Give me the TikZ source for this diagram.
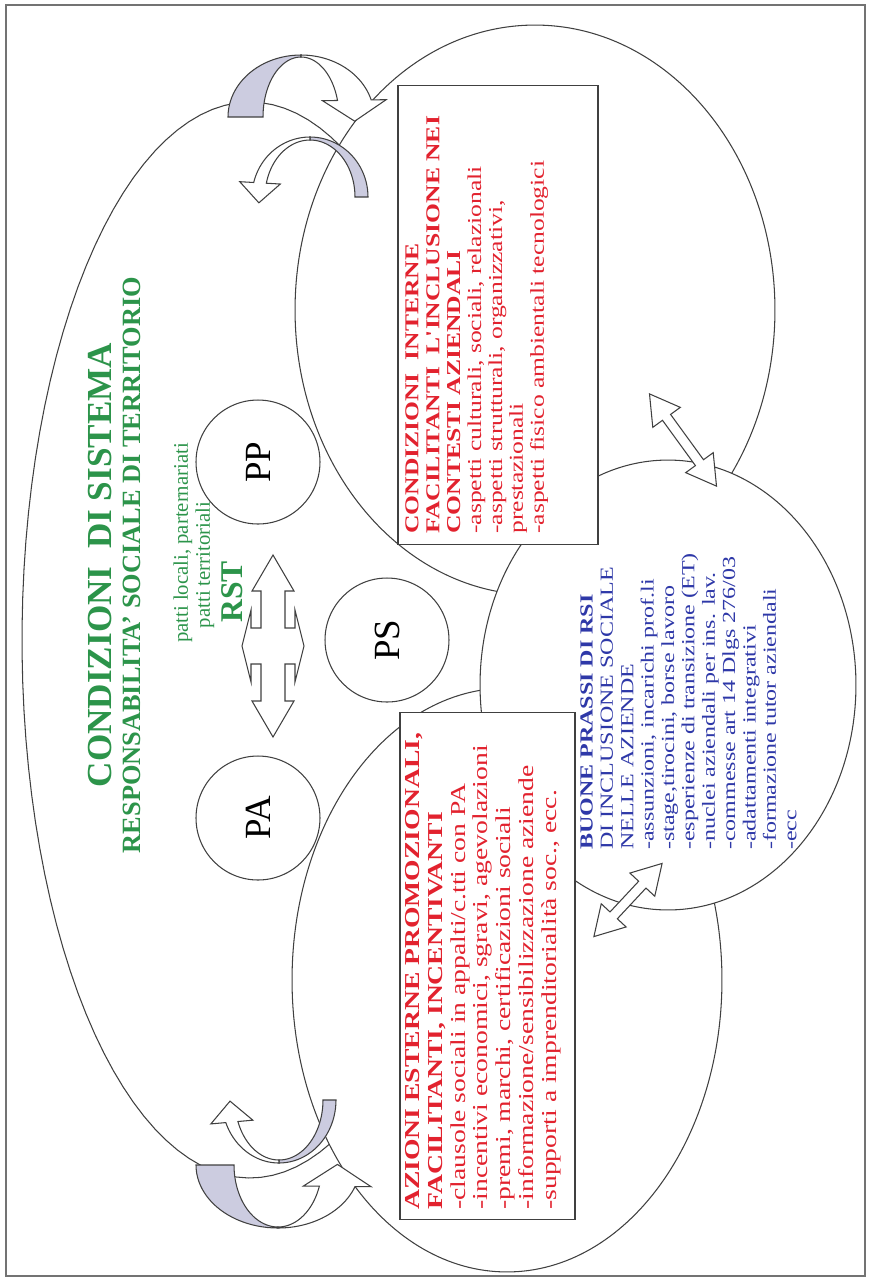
\documentclass[tikz,border=0pt]{standalone}
\usepackage{fontspec}
\setmainfont{Liberation Serif}
\newfontfamily\wideserif{Liberation Serif}[FakeStretch=1.3]
\usetikzlibrary{calc}

\definecolor{rsired}{RGB}{226,34,46}
\definecolor{rsigreen}{RGB}{44,148,74}
\definecolor{rsiblue}{RGB}{46,56,168}
\definecolor{bandgray}{RGB}{204,204,224}

\begin{document}
\begin{tikzpicture}[
  x=0.02cm, y=-0.02cm,
  outline/.style={draw=black!75, line width=.6pt},
  area/.style={outline, fill=white},
  textbox/.style={outline, fill=white, inner sep=0pt},
  listtext/.style={rotate=90, anchor=north west, align=left, inner sep=0pt},
  greentext/.style={rotate=90, inner sep=0pt, text=rsigreen},
  actor/.style={circle, area, minimum size=2.48cm, inner sep=0pt,
                rotate=90, font=\fontsize{21}{21}\selectfont},
  blockarrow/.style={outline, fill=white},
  backside/.style={outline, fill=bandgray}
]
\useasboundingbox (0,0) rectangle (870,1279);
\draw[black!55, line width=.8pt] (6,5) rectangle (865,1276);

% system conditions: only the left arc of the big oval shows
\draw[outline] plot[domain=60:300, samples=80]
  ({250+228*cos(\x)},{640-538*sin(\x)});

% internal conditions (top) and external actions (bottom)
\draw[area] (535,310) ellipse [x radius=4.8cm, y radius=5.7cm];
\draw[area] (507,980) ellipse [x radius=4.3cm, y radius=5.84cm];

% good practices
\draw[area] (668,685) ellipse [x radius=3.76cm, y radius=4.5cm];

% double block arrows between the areas
\foreach \px/\py/\ang/\h in {683/440/-54/57, 628/900/47/50}
  \draw[blockarrow, shift={(\px,\py)}, rotate=\ang]
    (-\h,0) -- ({-\h+29},-17) -- ({-\h+29},-5) -- ({\h-29},-5)
    -- ({\h-29},-17) -- (\h,0) -- ({\h-29},17) -- ({\h-29},5)
    -- ({-\h+29},5) -- ({-\h+29},17) -- cycle;

% text boxes
\node[textbox, minimum width=4cm, minimum height=9.2cm] (internalbox) at (498,315) {};
\node[listtext, text=rsired, font=\wideserif\fontsize{11.2}{11.9}\selectfont]
  (internal) at (405,534) {%
  \textbf{CONDIZIONI\ \ INTERNE}\\
  \textbf{FACILITANTI\ \ L'INCLUSIONE NEI}\\
  \textbf{CONTESTI AZIENDALI}\\
  -aspetti culturali, sociali, relazionali\\
  -aspetti strutturali, organizzativi,\\
  prestazionali\\
  -aspetti fisico ambientali tecnologici};

\node[textbox, minimum width=3.5cm, minimum height=10.16cm] (externalbox) at (487.5,966) {};
\node[listtext, text=rsired, font=\wideserif\fontsize{12.1}{13}\selectfont]
  (external) at (405,1210) {%
  \textbf{AZIONI ESTERNE PROMOZIONALI,}\\
  \textbf{FACILITANTI, INCENTIVANTI}\\
  -clausole sociali in appalti/c.tti con PA\\
  -incentivi economici, sgravi, agevolazioni\\
  -premi, marchi, certificazioni sociali\\
  -informazione/sensibilizzazione aziende\\
  -supporti a imprenditorialità soc.,\ ecc.};

\node[listtext, text=rsiblue, font=\wideserif\fontsize{10.5}{11.6}\selectfont]
  (practices) at (580,850) {%
  \textbf{BUONE PRASSI DI RSI}\\
  DI INCLUSIONE SOCIALE\\
  NELLE AZIENDE\\
  -assunzioni, incarichi prof.li\\
  -stage,tirocini, borse lavoro\\
  -esperienze di transizione (ET)\\
  -nuclei aziendali per ins. lav.\\
  -commesse art 14 Dlgs 276/03\\
  -adattamenti integrativi\\
  -formazione tutor aziendali\\
  -ecc};

% green titles
\node[greentext, font=\fontsize{20}{24}\selectfont\bfseries] (system) at (100,565) {CONDIZIONI\ \ DI SISTEMA};
\node[greentext, font=\fontsize{15}{18}\selectfont\bfseries] (territory) at (132,565) {RESPONSABILITA' SOCIALE DI TERRITORIO};
\node[greentext, font=\fontsize{11.8}{13}\selectfont] (pacts) at (183,543) {patti locali, parternariati};
\node[greentext, font=\fontsize{11.8}{13}\selectfont] (tpacts) at (205,565) {patti territoriali};
\node[greentext, font=\fontsize{18}{20}\selectfont\bfseries] (rst) at (232,592) {RST};

% actors
\node[actor] (pp) at (258,462) {PP};
\node[actor] (ps) at (387,640) {PS};
\node[actor] (pa) at (258,818) {PA};

% four way arrow
\draw[blockarrow, shift={(273,646)}]
  (0,-91) -- (21,-55) -- (12,-55) -- (12,-18) -- (22,-18) -- (22,-36)
  -- (31,0) -- (22,36) -- (22,18) -- (12,18) -- (12,55) -- (21,55)
  -- (0,91) -- (-21,55) -- (-12,55) -- (-12,18) -- (-22,18) -- (-22,36)
  -- (-31,0) -- (-22,-36) -- (-22,-18) -- (-12,-18) -- (-12,-55)
  -- (-21,-55) -- cycle;

% curved ribbon arrows: shaded back, then front with head
\foreach \cx/\cy/\ao/\bo/\ai/\bi/\ta/\tm/\tb/\s/\ov/\hl in {
    301/117/73/62/38/60/180/90/16/90/.3cm/.42cm,
    310/197/58/60/45/57/0/90/166/-90/.28cm/.4cm,
    278/1165/82/63/44/62/180/270/340/-90/.32cm/.44cm,
    279/1100/57/63/44/60/360/270/201/90/.3cm/.42cm}
{
  \coordinate (ho) at ({\cx+\ao*cos(\tb)},{\cy-\bo*sin(\tb)});
  \coordinate (hi) at ({\cx+\ai*cos(\tb)},{\cy-\bi*sin(\tb)});
  \coordinate (hm) at ($(ho)!.5!(hi)$);
  \draw[backside] plot[domain=\ta:\tm, samples=25] ({\cx+\ao*cos(\x)},{\cy-\bo*sin(\x)})
    -- plot[domain=\tm:\ta, samples=25] ({\cx+\ai*cos(\x)},{\cy-\bi*sin(\x)}) -- cycle;
  \draw[blockarrow] plot[domain=\tm:\tb, samples=25] ({\cx+\ao*cos(\x)},{\cy-\bo*sin(\x)})
    -- ($(ho)!-\ov!(hi)$) -- ($(hm)!\hl!\s:(hi)$) -- ($(hi)!-\ov!(ho)$)
    -- plot[domain=\tb:\tm, samples=25] ({\cx+\ai*cos(\x)},{\cy-\bi*sin(\x)}) -- cycle;
}
\end{tikzpicture}
\end{document}
